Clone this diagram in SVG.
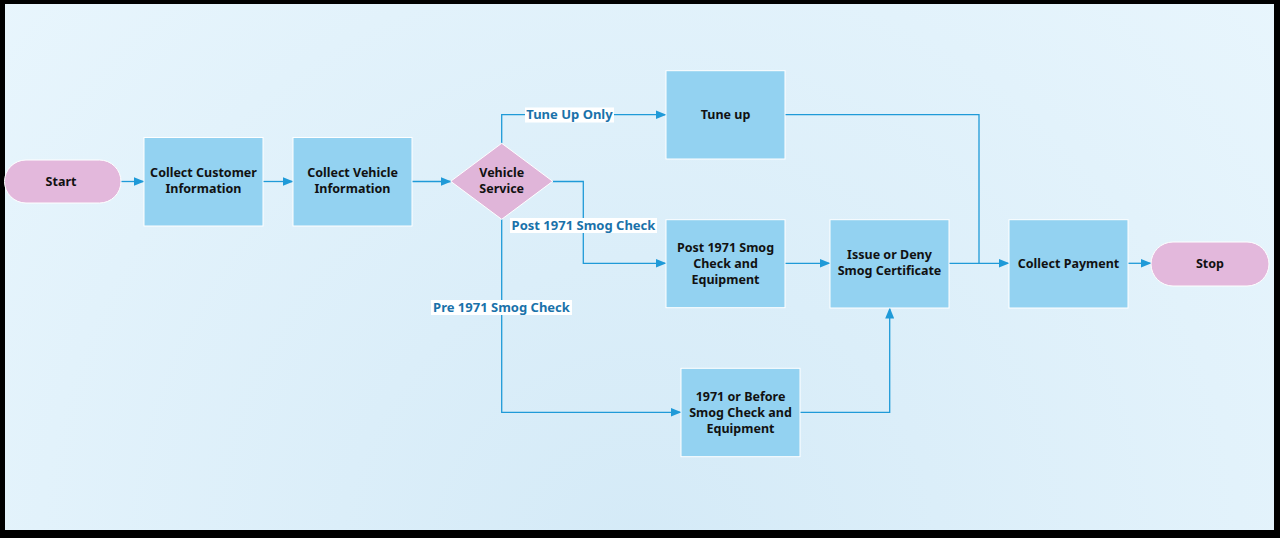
<svg xmlns="http://www.w3.org/2000/svg" width="1280" height="538" viewBox="0 0 1280 538">
<defs>
<radialGradient id="bg" cx="640" cy="560" r="900" gradientUnits="userSpaceOnUse">
<stop offset="0" stop-color="#d4eaf7"/>
<stop offset="1" stop-color="#e9f6fd"/>
</radialGradient>
<marker id="arr" markerWidth="11" markerHeight="9" refX="10.5" refY="4.5" orient="auto" markerUnits="userSpaceOnUse">
<path d="M0,0 L11,4.5 L0,9 Z" fill="#1f9ad8"/>
</marker>
<style>
.box{fill:#93d2f1;stroke:#ffffff;stroke-width:1}
.pill{fill:#e3b8dc;stroke:#ffffff;stroke-width:1}
.t{font-family:"Noto Sans","Open Sans","DejaVu Sans",sans-serif;font-weight:bold;font-size:12.5px;fill:#111;text-anchor:middle}
.c{fill:none;stroke:#1f9ad8;stroke-width:1.3}
.lbg{fill:#ffffff}
.lt{font-family:"Noto Sans","Open Sans","DejaVu Sans",sans-serif;font-weight:bold;font-size:13px;fill:#1a72aa;text-anchor:middle}
</style>
</defs>
<rect x="0" y="0" width="1280" height="538" fill="#000"/>
<rect x="5" y="4" width="1269" height="526" fill="url(#bg)"/>

<g id="connectors">
<path class="c" d="M121,181.5 H144" marker-end="url(#arr)"/>
<path class="c" d="M263,181.5 H293" marker-end="url(#arr)"/>
<path class="c" d="M412,181.5 H451" marker-end="url(#arr)"/>
<path class="c" d="M501.7,143.5 V114.7 H666" marker-end="url(#arr)"/>
<path class="c" d="M552.7,181.5 H583.3 V263.3 H666" marker-end="url(#arr)"/>
<path class="c" d="M501.7,219.3 V412.3 H681" marker-end="url(#arr)"/>
<path class="c" d="M785,263.3 H830" marker-end="url(#arr)"/>
<path class="c" d="M800,412.3 H889.7 V308" marker-end="url(#arr)"/>
<path class="c" d="M785,114.7 H979 V263.3"/>
<path class="c" d="M949,263.3 H1009" marker-end="url(#arr)"/>
<path class="c" d="M1128,263.3 H1151" marker-end="url(#arr)"/>
<rect class="lbg" x="525" y="107.5" width="89" height="15"/>
<text class="lt" x="569.5" y="119.3">Tune Up Only</text>
<rect class="lbg" x="510" y="218" width="147" height="15"/>
<text class="lt" x="583.5" y="230.3">Post 1971 Smog Check</text>
<rect class="lbg" x="431" y="300" width="141" height="15"/>
<text class="lt" x="501.5" y="312.3">Pre 1971 Smog Check</text>
</g>

<g id="start">
<rect class="pill" x="4.5" y="160" width="116.5" height="43" rx="21.5"/>
<text class="t" x="61" y="186">Start</text>
</g>
<g id="collect-customer">
<rect class="box" x="144" y="137.5" width="119" height="88.5"/>
<text class="t" x="203.5" y="177">Collect Customer</text>
<text class="t" x="203.5" y="193">Information</text>
</g>
<g id="collect-vehicle">
<rect class="box" x="293" y="137.5" width="119" height="88.5"/>
<text class="t" x="352.5" y="177">Collect Vehicle</text>
<text class="t" x="352.5" y="193">Information</text>
</g>
<g id="vehicle-service">
<path d="M501.7,143.3 L552.7,181.3 L501.7,219.3 L450.7,181.3 Z" fill="#e0b5d9" stroke="#ffffff" stroke-width="1"/>
<text class="t" x="501.7" y="177">Vehicle</text>
<text class="t" x="501.7" y="193">Service</text>
</g>
<g id="tune-up">
<rect class="box" x="666" y="70.7" width="119" height="88.3"/>
<text class="t" x="725.5" y="119">Tune up</text>
</g>
<g id="post-1971">
<rect class="box" x="666" y="219.7" width="119" height="88"/>
<text class="t" x="725.5" y="252">Post 1971 Smog</text>
<text class="t" x="725.5" y="268">Check and</text>
<text class="t" x="725.5" y="284">Equipment</text>
</g>
<g id="pre-1971">
<rect class="box" x="681" y="368.3" width="119" height="88.4"/>
<text class="t" x="740.5" y="401">1971 or Before</text>
<text class="t" x="740.5" y="417">Smog Check and</text>
<text class="t" x="740.5" y="433">Equipment</text>
</g>
<g id="issue-deny">
<rect class="box" x="830" y="219.7" width="119" height="88.3"/>
<text class="t" x="889.5" y="259">Issue or Deny</text>
<text class="t" x="889.5" y="275">Smog Certificate</text>
</g>
<g id="collect-payment">
<rect class="box" x="1009" y="219.7" width="119" height="88.3"/>
<text class="t" x="1068.5" y="268">Collect Payment</text>
</g>
<g id="stop">
<rect class="pill" x="1151" y="242" width="118" height="44" rx="22"/>
<text class="t" x="1210" y="268">Stop</text>
</g>
</svg>
